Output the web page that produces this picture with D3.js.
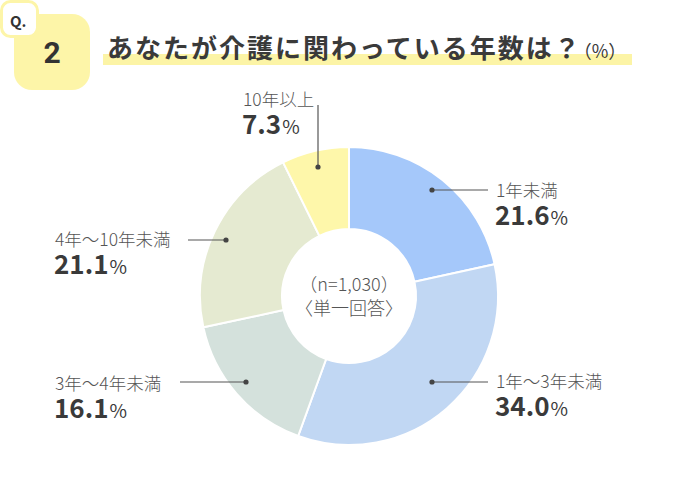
<!DOCTYPE html>
<html><head><meta charset="utf-8">
<script src="https://cdn.jsdelivr.net/npm/d3@7"></script>
<style>
html,body{margin:0;padding:0;background:#fff;}
svg{display:block;font-family:"Noto Sans CJK JP","Noto Sans",sans-serif;}
</style></head>
<body>
<svg id="c" width="700" height="500"></svg>
<script>
const categories = ["1年未満","1年～3年未満","3年～4年未満","4年～10年未満","10年以上"];
const values = [21.6, 34.0, 16.1, 21.1, 7.3];
const valueLabels = ["21.6","34.0","16.1","21.1","7.3"];
const colors = ["#a5c8fa","#c1d7f3","#d4e1dc","#e5ead1","#fef7aa"];
const titleText = "あなたが介護に関わっている年数は？";
const centerLines = ["（n=1,030）","〈単一回答〉"];

// layout (label placement)
const layout = [
  {tx:496, ty:197, line:[[432,190],[488,190]], dot:0},
  {tx:496, ty:388, line:[[432,382],[488,382]], dot:0},
  {tx:55,  ty:390, line:[[180,382],[246,382]], dot:1},
  {tx:55,  ty:246, line:[[188,240],[226,240]], dot:1},
  {tx:243, ty:106, line:[[318,105],[318,167]], dot:1}
];

const svg = d3.select("#c");
const cx = 349, cy = 296, R = 149, r0 = 67;

// header
svg.append("rect").attr("x",14).attr("y",14).attr("width",76).attr("height",76).attr("rx",18).attr("fill","#fdf5a8");
svg.append("rect").attr("x",1.5).attr("y",1.5).attr("width",36).attr("height",35).attr("rx",9).attr("fill","#fff").attr("stroke","#fdf5a8").attr("stroke-width",3);
svg.append("text").attr("x",10).attr("y",27).attr("font-size",15).attr("font-weight",700).attr("fill","#333").text("Q.");
svg.append("text").attr("x",52).attr("y",63).attr("text-anchor","middle").attr("font-size",30).attr("font-weight",700).attr("fill","#333").attr("font-family","Roboto, 'Noto Sans', sans-serif").text("2");

svg.append("rect").attr("x",103).attr("y",54).attr("width",529).attr("height",11).attr("fill","#fcf4a6");
const title = svg.append("text").attr("x",107).attr("y",58).attr("fill","#3a3a3a").attr("font-weight",700);
title.append("tspan").attr("font-size",26).attr("letter-spacing","2px").text(titleText.slice(0,-1));
title.append("tspan").attr("font-size",26).text(titleText.slice(-1));
title.append("tspan").attr("font-size",18).attr("font-weight",400).attr("dx",-6).text("（%）");

// donut
const pie = d3.pie().sort(null).value(d=>d)(values);
const arc = d3.arc().innerRadius(r0).outerRadius(R);
const g = svg.append("g").attr("transform",`translate(${cx},${cy})`);
g.selectAll("path").data(pie).join("path")
  .attr("d",arc).attr("fill",(d,i)=>colors[i])
  .attr("stroke","#fff").attr("stroke-width",2);

// center text
centerLines.forEach((t,i)=>{
  svg.append("text").attr("x",cx).attr("y",[291,315][i]).attr("text-anchor","middle")
    .attr("font-size",18).attr("font-weight",300).attr("fill","#555").text(t);
});

// labels
categories.forEach((c,i)=>{
  const L = layout[i];
  svg.append("line").attr("x1",L.line[0][0]).attr("y1",L.line[0][1]).attr("x2",L.line[1][0]).attr("y2",L.line[1][1])
    .attr("stroke","#555").attr("stroke-width",1.2);
  const dot = L.line[L.dot];
  svg.append("circle").attr("cx",dot[0]).attr("cy",dot[1]).attr("r",2.6).attr("fill","#444");
  svg.append("text").attr("x",L.tx).attr("y",L.ty).attr("font-size",17.5).attr("font-weight",300).attr("fill","#555").text(c);
  const v = svg.append("text").attr("x",L.tx-1).attr("y",L.ty+28).attr("fill","#3a3a3a");
  v.append("tspan").attr("font-size",26).attr("font-weight",700).text(valueLabels[i]);
  v.append("tspan").attr("font-size",19).attr("font-weight",400).attr("dx",1).text("%");
});
</script>
</body></html>
